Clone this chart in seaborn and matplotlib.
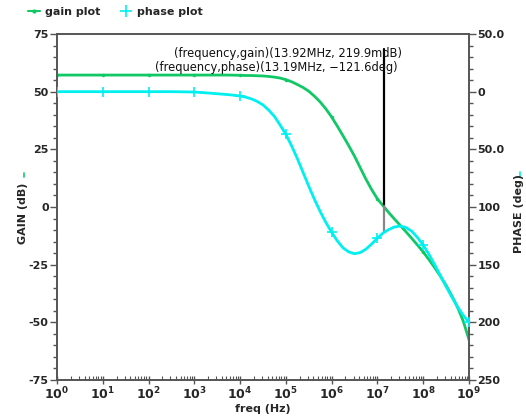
import numpy as np
import pandas as pd
import matplotlib
matplotlib.use("Agg")
import matplotlib.pyplot as plt
import seaborn as sns
from matplotlib.ticker import FixedLocator, FixedFormatter, AutoMinorLocator, LogLocator, NullFormatter
from matplotlib.lines import Line2D

# ---- data ----
log_freq = [0, 0.5, 1, 1.5, 2, 2.5, 3, 3.25, 3.5, 3.75,
            4, 4.125, 4.25, 4.375, 4.5, 4.625, 4.75, 4.875,
            5, 5.125, 5.25, 5.375, 5.5, 5.625, 5.75, 5.875,
            6, 6.125, 6.25, 6.375, 6.5, 6.625, 6.75, 6.875,
            7, 7.125, 7.25, 7.375, 7.5, 7.625, 7.75, 7.875,
            8, 8.125, 8.25, 8.375, 8.5, 8.625, 8.75, 8.875, 9]
gain_db = [57.2, 57.2, 57.2, 57.2, 57.2, 57.2, 57.2, 57.2, 57.2, 57.2,
           57.1, 57.0, 57.0, 56.9, 56.8, 56.6, 56.3, 55.9,
           55.2, 54.3, 53.1, 51.8, 50.2, 48.0, 45.5, 42.5,
           39.0, 35.0, 30.8, 26.5, 22.0, 17.0, 12.0, 7.5,
           3.5, 0.5, -2.5, -5.3, -8.0, -10.8, -13.6, -16.5,
           -19.5, -22.8, -26.3, -30.0, -34.0, -38.5, -43.5, -49.5, -57.5]
phase_deg = [0, 0, 0, 0, 0, 0, -0.3, -1.0, -1.8, -2.6,
             -3.7, -4.8, -6.3, -8.5, -11.5, -16.0, -21.5, -29.0,
             -37.0, -47.0, -58.0, -70.0, -82.0, -93.5, -104.0, -113.5,
             -122.0, -129.5, -135.5, -139.0, -140.5, -139.5, -136.5, -132.0,
             -127.0, -122.5, -119.5, -117.3, -116.5, -117.8, -121.0, -126.5,
             -133.0, -141.0, -150.0, -159.5, -169.0, -178.0, -186.5, -194.0, -200.0]
decade_ticks = [0, 1, 2, 3, 4, 5, 6, 7, 8, 9]
gain_ticks = [75, 50, 25, 0, -25, -50, -75]
gain_tick_labels = ["75", "50", "25", "0", "-25", "-50", "-75"]
phase_ticks = [50, 0, -50, -100, -150, -200, -250]
phase_tick_labels = ["50.0", "0", "50.0", "100", "150", "200", "250"]
cursor_gain_freq = 13.92e6
cursor_gain_val = 0.2199
cursor_phase_freq = 13.19e6
cursor_phase_val = -121.6
cursor_text_gain = "(frequency,gain)(13.92MHz, 219.9mdB)"
cursor_text_phase = "(frequency,phase)(13.19MHz, \u2212121.6deg)"

freq = [10.0 ** v for v in log_freq]
df = pd.DataFrame({"freq": freq, "gain": gain_db, "phase": phase_deg})
mark_idx = [log_freq.index(d) for d in decade_ticks]

GREEN = "#10c866"
CYAN = "#00f0f0"
SPINE = "#555555"

sns.set_theme(style="white")
plt.rcParams["font.family"] = ["DejaVu Sans"]
plt.rcParams["mathtext.default"] = "bf"

fig = plt.figure(figsize=(5.26, 4.19), dpi=100)
ax = fig.add_axes([57 / 526, 1 - 380 / 419, (469 - 57) / 526, (380 - 34) / 419])
ax2 = ax.twinx()

sns.lineplot(data=df, x="freq", y="gain", ax=ax, color=GREEN, lw=2.0,
             marker="o", markersize=2.5, markevery=mark_idx, markeredgewidth=0,
             markerfacecolor=GREEN, markeredgecolor=GREEN, zorder=3)
sns.lineplot(data=df, x="freq", y="phase", ax=ax2, color=CYAN, lw=2.0,
             marker="+", markersize=7, markevery=mark_idx, markeredgewidth=1.2,
             markeredgecolor=CYAN, markerfacecolor=CYAN, zorder=3)
for a in (ax, ax2):
    for ln in a.get_lines():
        ln.set_solid_joinstyle("round")

ax.set_xscale("log")
ax.set_xlim(1, 1e9)
ax.set_ylim(-75, 75)
ax2.set_ylim(-250, 50)

# cursor
ax.plot([cursor_gain_freq, cursor_gain_freq], [cursor_gain_val, 68.5], color="black", lw=1.6, zorder=5)
phase_in_gain = -75 + (cursor_phase_val + 250) / 300 * 150
ax.plot([cursor_gain_freq, cursor_gain_freq], [phase_in_gain, cursor_gain_val], color="#888888", lw=1.6, zorder=5)
fig.text(402 / 526, 1 - 53 / 419, cursor_text_gain, ha="right", va="center", fontsize=8.3, color="#111111")
fig.text(398 / 526, 1 - 68 / 419, cursor_text_phase, ha="right", va="center", fontsize=8.3, color="#111111")

# ticks
ax.set_xticks([10.0 ** d for d in decade_ticks])
ax.set_xticklabels([r"$\mathbf{10^{%d}}$" % d for d in decade_ticks], fontsize=9)
ax.xaxis.set_minor_locator(LogLocator(base=10, subs=np.arange(2, 10), numticks=20))
ax.xaxis.set_minor_formatter(NullFormatter())
ax.yaxis.set_major_locator(FixedLocator(gain_ticks))
ax.yaxis.set_major_formatter(FixedFormatter(gain_tick_labels))
ax.yaxis.set_minor_locator(AutoMinorLocator(5))
ax2.yaxis.set_major_locator(FixedLocator(phase_ticks))
ax2.yaxis.set_major_formatter(FixedFormatter(phase_tick_labels))
ax2.yaxis.set_minor_locator(AutoMinorLocator(5))

ax.tick_params(axis="y", which="major", direction="out", length=5, width=1, color=SPINE, labelsize=8, pad=1, left=True)
ax.tick_params(axis="y", which="minor", direction="out", length=3, width=1, color=SPINE, left=True)
ax2.tick_params(axis="y", which="major", direction="out", length=5, width=1, color=SPINE, labelsize=8, pad=1, right=True)
ax2.tick_params(axis="y", which="minor", direction="out", length=3, width=1, color=SPINE, right=True)
ax.tick_params(axis="x", which="major", direction="inout", length=6, width=1, color=SPINE, labelsize=9, pad=1, bottom=True)
ax.tick_params(axis="x", which="minor", direction="in", length=3, width=0.8, color=SPINE, bottom=True)
for lab in ax.get_yticklabels() + ax2.get_yticklabels():
    lab.set_fontweight("bold")

for a in (ax, ax2):
    for s in a.spines.values():
        s.set_color(SPINE)
        s.set_linewidth(1.2)

ax.set_xlabel("freq (Hz)", fontsize=8, fontweight="bold", labelpad=1)
ax.set_ylabel("")
ax2.set_ylabel("")
fig.text(23 / 526, 1 - 213 / 419, "GAIN (dB)", rotation=90, ha="center", va="center", fontsize=8, fontweight="bold")
fig.text(519 / 526, 1 - 213 / 419, "PHASE (deg)", rotation=90, ha="center", va="center", fontsize=8, fontweight="bold")
# small coloured legend marks beside the axis titles
fig.add_artist(Line2D([24 / 526, 24 / 526], [1 - 173 / 419, 1 - 177 / 419], color=GREEN, lw=1.2))
fig.add_artist(Line2D([520 / 526, 520 / 526], [1 - 172 / 419, 1 - 177 / 419], color=CYAN, lw=1.2))

# legend
handles = [Line2D([], [], color=GREEN, lw=1.5, marker="o", markersize=3, markeredgewidth=0),
           Line2D([], [], color=CYAN, lw=0, marker="+", markersize=8, markeredgewidth=1.2)]
fig.legend(handles, ["gain plot", "phase plot"], loc="center left", bbox_to_anchor=(28 / 526, 1 - 12 / 419),
           ncol=2, frameon=False, prop={"weight": "bold", "size": 8}, handlelength=1.1,
           handletextpad=0.4, columnspacing=1.8, borderaxespad=0, borderpad=0)

fig.savefig("out.png", dpi=100)
